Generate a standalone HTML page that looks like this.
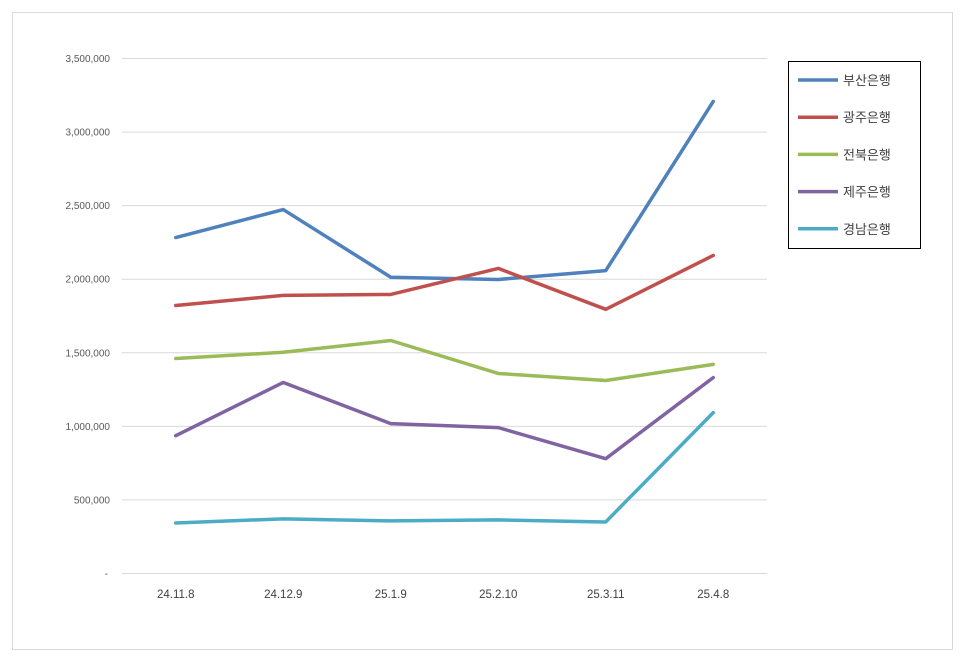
<!DOCTYPE html>
<html><head><meta charset="utf-8"><style>
html,body{margin:0;padding:0;background:#fff;}
body{width:966px;height:662px;overflow:hidden;font-family:"Liberation Sans","Noto Sans CJK KR",sans-serif;}
</style></head><body>
<svg id="chart" width="966" height="662" xmlns="http://www.w3.org/2000/svg">
<rect x="12.5" y="12.5" width="940" height="637" fill="#fff" stroke="#d9d9d9"/>
<g id="grid"></g><g id="yticks"></g><g id="xticks"></g><g id="lines"></g>
<g id="legend">
<rect x="788.5" y="61.5" width="132" height="187" fill="#fff" stroke="#000"/>
</g>
</svg>
<script>
const categories=["24.11.8","24.12.9","25.1.9","25.2.10","25.3.11","25.4.8"];
const seriesNames=["부산은행","광주은행","전북은행","제주은행","경남은행"];
const busan=[2280000,2470000,2010000,1995000,2055000,3205000];
const gwangju=[1818000,1887000,1893000,2070000,1792000,2158000];
const jeonbuk=[1458000,1500000,1580000,1356000,1308000,1418000];
const jeju=[933000,1295000,1015000,988000,777000,1328000];
const gyeongnam=[340000,368000,354000,361000,347000,1090000];
const yTicks=[0,500000,1000000,1500000,2000000,2500000,3000000,3500000];
const colors=["#4f81bd","#c0504d","#9bbb59","#8064a2","#4bacc6"];
const allSeries=[busan,gwangju,jeonbuk,jeju,gyeongnam];
const NS="http://www.w3.org/2000/svg";
const x0=122,x1=767,y0=573,y1=58,yMax=3500000;
const step=(x1-x0)/categories.length;
function xs(i){return x0+step*(i+0.5);}
function ys(v){return y0-(v/yMax)*(y0-y1);}
function mk(t,a,p){const e=document.createElementNS(NS,t);for(const k in a)e.setAttribute(k,a[k]);document.getElementById(p).appendChild(e);return e;}
function fmt(v){return v===0?"-":v.toLocaleString("en-US");}
yTicks.forEach(v=>{
 const l=mk("line",{x1:x0,x2:x1,y1:ys(v)+0.5,y2:ys(v)+0.5,stroke:"#d9d9d9"},"grid");
 
 
 const t=mk("text",{x:v===0?108:110,y:ys(v)+4,"text-anchor":"end","font-size":"10",fill:"#595959"},"yticks");
 t.textContent=fmt(v);
 
 
});
categories.forEach((c,i)=>{
 const t=mk("text",{x:xs(i),y:598,"text-anchor":"middle","font-size":"11.5",fill:"#404040"},"xticks");
 t.textContent=c;
 
 
});
allSeries.forEach((s,k)=>{
 const p=mk("polyline",{points:s.map((v,i)=>xs(i)+","+ys(v)).join(" "),fill:"none",stroke:colors[k],"stroke-width":"3.5","stroke-linejoin":"round","stroke-linecap":"round"},"lines");
 
 
 const ly=80+k*37.2;
 const ll=mk("line",{x1:798,x2:838,y1:ly,y2:ly,stroke:colors[k],"stroke-width":"3.5"},"legend");
 
 
 const lt=mk("text",{x:843,y:ly+5,"font-size":"13",fill:"#404040"},"legend");
 lt.textContent=seriesNames[k];
 
 
});
</script>
</body></html>
